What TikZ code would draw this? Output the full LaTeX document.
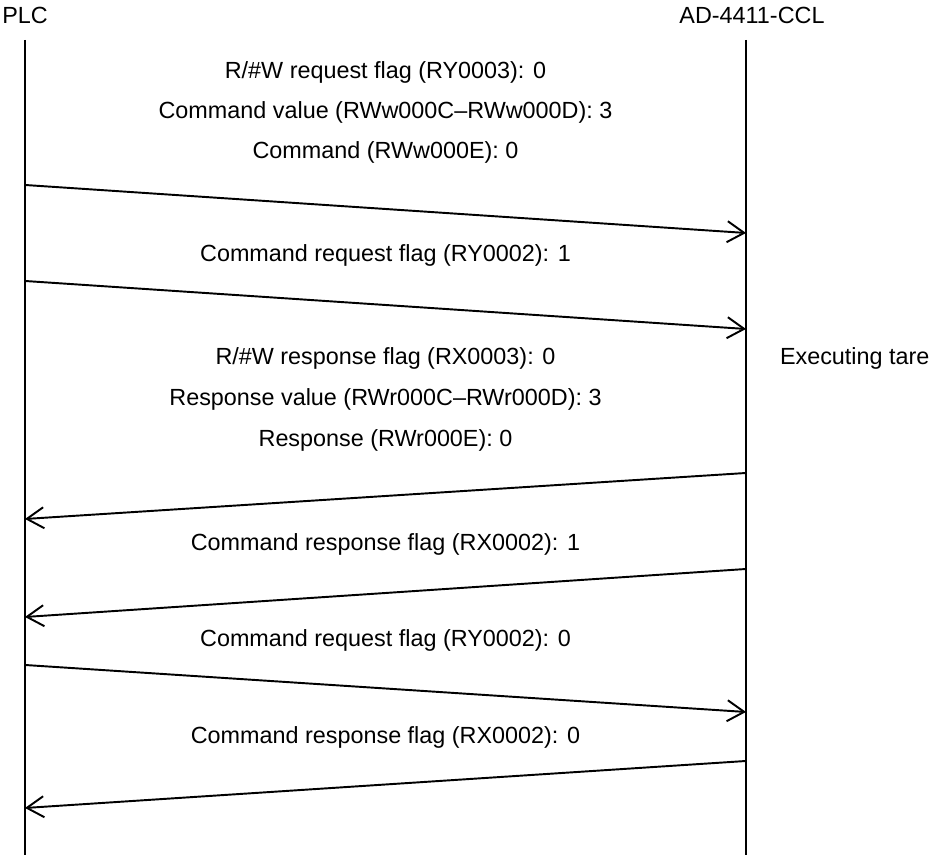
\documentclass[tikz,border=0pt]{standalone}
\usepackage{fontspec}
\setmainfont{Liberation Sans}
\usetikzlibrary{arrows.meta}

\begin{document}
\begin{tikzpicture}[outer sep=0pt, inner sep=0pt, line width=1.1pt,
  >={Straight Barb[length=0.34cm, width=0.42cm, line width=1.1pt]},
  font=\fontsize{13.3}{16}\selectfont]
\useasboundingbox (0,0) rectangle (18.7,17.1);

% lifelines
\node at (0.5, 16.8) (PLC) {PLC};
\node at (15.04, 16.8) (AD) {AD-4411-CCL};
\coordinate (PLCtop) at (0.5, 16.3);
\coordinate (PLCbot) at (0.5, 0);
\coordinate (ADtop) at (14.92, 16.3);
\coordinate (ADbot) at (14.92, 0);
\draw (PLCtop) -- (PLCbot);
\draw (ADtop) -- (ADbot);

% write command
\node at (7.71, 15.66) (L1) {R/\#W request flag (RY0003): 0};
\node at (7.71, 14.86) (L2) {Command value (RWw000C–RWw000D): 3};
\node at (7.71, 14.06) (L3) {Command (RWw000E): 0};
\coordinate (A1s) at (0.5, 13.4);
\coordinate (A1e) at (14.92, 12.44);
\draw [->] (A1s) -- (A1e);

\node at (7.71, 12.0) (L4) {Command request flag (RY0002): 1};
\coordinate (A2s) at (0.5, 11.48);
\coordinate (A2e) at (14.92, 10.52);
\draw [->] (A2s) -- (A2e);

\node [anchor=west] at (15.6, 9.94) (tare) {Executing tare};

% response
\node at (7.71, 9.94) (L5) {R/\#W response flag (RX0003): 0};
\node at (7.71, 9.12) (L6) {Response value (RWr000C–RWr000D): 3};
\node at (7.71, 8.3) (L7) {Response (RWr000E): 0};
\coordinate (A3s) at (14.92, 7.64);
\coordinate (A3e) at (0.5, 6.72);
\draw [->] (A3s) -- (A3e);

\node at (7.71, 6.22) (L8) {Command response flag (RX0002): 1};
\coordinate (A4s) at (14.92, 5.72);
\coordinate (A4e) at (0.5, 4.76);
\draw [->] (A4s) -- (A4e);

\node at (7.71, 4.3) (L9) {Command request flag (RY0002): 0};
\coordinate (A5s) at (0.5, 3.8);
\coordinate (A5e) at (14.92, 2.86);
\draw [->] (A5s) -- (A5e);

\node at (7.71, 2.36) (L10) {Command response flag (RX0002): 0};
\coordinate (A6s) at (14.92, 1.88);
\coordinate (A6e) at (0.5, 0.94);
\draw [->] (A6s) -- (A6e);

\end{tikzpicture}
\end{document}
